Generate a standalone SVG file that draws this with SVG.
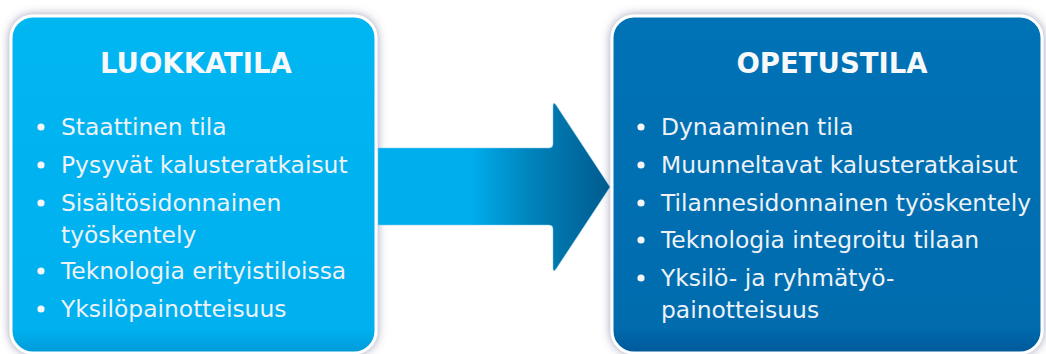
<svg xmlns="http://www.w3.org/2000/svg" width="1046" height="354" viewBox="0 0 1046 354">
  <defs>
    <filter id="glow" x="-10%" y="-10%" width="120%" height="120%">
      <feDropShadow dx="0" dy="0" stdDeviation="5" flood-color="#5a5a86" flood-opacity="0.6"/>
    </filter>
    <linearGradient id="gLeft" x1="0" y1="0" x2="0" y2="1">
      <stop offset="0" stop-color="#06b6f1"/>
      <stop offset="0.93" stop-color="#00b0ef"/>
      <stop offset="1" stop-color="#009ad8"/>
    </linearGradient>
    <linearGradient id="gRight" x1="0" y1="0" x2="0" y2="1">
      <stop offset="0" stop-color="#0072b6"/>
      <stop offset="0.92" stop-color="#006cae"/>
      <stop offset="1" stop-color="#00589a"/>
    </linearGradient>
    <linearGradient id="gArrow" x1="376" y1="0" x2="610" y2="0" gradientUnits="userSpaceOnUse">
      <stop offset="0" stop-color="#00aeee"/>
      <stop offset="0.4" stop-color="#00aeee"/>
      <stop offset="0.65" stop-color="#0085bd"/>
      <stop offset="1" stop-color="#005a8e"/>
    </linearGradient>
  </defs>
  <style>
    .box { stroke: #ffffff; stroke-width: 3; filter: url(#glow); }
    .title { font-family: "DejaVu Sans", Verdana, sans-serif; font-weight: bold; font-size: 27.5px; fill: #f7f8fa; text-anchor: middle; }
    .item { font-family: "DejaVu Sans", Verdana, sans-serif; font-size: 23.4px; fill: #eef2f6; }
    .bullet { fill: #f4f6f8; }
  </style>
  <rect width="1046" height="354" fill="#ffffff"/>

  <g id="node-luokkatila">
    <rect class="box" x="11" y="16" width="365" height="337" rx="22" fill="url(#gLeft)"/>
    <text class="title" x="196" y="73">LUOKKATILA</text>
    <circle class="bullet" cx="41" cy="127" r="3.6"/>
    <text class="item" x="61" y="135">Staattinen tila</text>
    <circle class="bullet" cx="41" cy="165" r="3.6"/>
    <text class="item" x="61" y="173">Pysyvät kalusteratkaisut</text>
    <circle class="bullet" cx="41" cy="203" r="3.6"/>
    <text class="item" x="61" y="211">Sisältösidonnainen</text>
    <text class="item" x="61" y="243">työskentely</text>
    <circle class="bullet" cx="41" cy="271" r="3.6"/>
    <text class="item" x="61" y="279">Teknologia erityistiloissa</text>
    <circle class="bullet" cx="41" cy="309" r="3.6"/>
    <text class="item" x="61" y="317">Yksilöpainotteisuus</text>
  </g>

  <g id="node-opetustila">
    <rect class="box" x="612" y="16" width="430" height="337" rx="22" fill="url(#gRight)"/>
    <text class="title" x="832" y="73">OPETUSTILA</text>
    <circle class="bullet" cx="641" cy="127" r="3.6"/>
    <text class="item" x="661" y="135">Dynaaminen tila</text>
    <circle class="bullet" cx="641" cy="165" r="3.6"/>
    <text class="item" x="661" y="173">Muunneltavat kalusteratkaisut</text>
    <circle class="bullet" cx="641" cy="203" r="3.6"/>
    <text class="item" x="661" y="211">Tilannesidonnainen työskentely</text>
    <circle class="bullet" cx="641" cy="240" r="3.6"/>
    <text class="item" x="661" y="248">Teknologia integroitu tilaan</text>
    <circle class="bullet" cx="641" cy="278" r="3.6"/>
    <text class="item" x="661" y="286">Yksilö- ja ryhmätyö-</text>
    <text class="item" x="661" y="318">painotteisuus</text>
  </g>

  <g id="connectors">
    <path d="M378,148 L549,148 Q553,148 553,144 L553,106 Q553,101 556,105 L610,187 L556,269 Q553,273 553,268 L553,229 Q553,225 549,225 L378,225 Z" fill="url(#gArrow)" stroke="#7fcdf0" stroke-opacity="0.5" stroke-width="1"/>
  </g>
</svg>
